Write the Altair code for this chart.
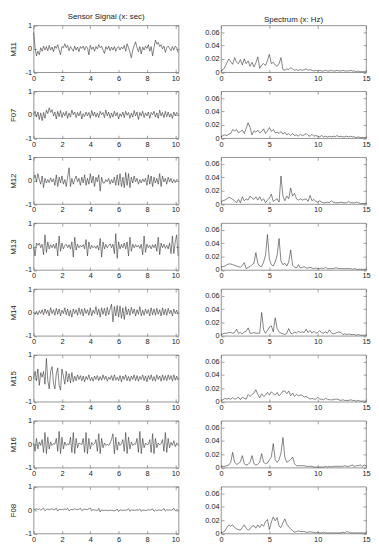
import altair as alt
import pandas as pd

NAMES = ["M11", "F07", "M12", "M13", "M14", "M15", "M16", "F08"]
SIGNAL_DT = 0.1
SPECTRUM_DF = 0.2

SIG_M11 = [0.70,0.05,-0.30,-0.10,-0.25,0.05,-0.10,0.12,-0.05,0.10,
           -0.08,0.15,-0.05,0.08,-0.12,0.12,0.02,0.18,-0.05,-0.25,
           0.10,0.05,0.22,0.05,0.15,-0.08,0.10,0.00,-0.10,0.12,
           -0.05,0.08,-0.12,0.10,0.02,0.12,-0.05,0.10,0.05,-0.25,
           0.15,-0.02,0.08,-0.10,0.10,0.00,0.18,0.05,0.12,-0.05,
           -0.20,0.10,-0.02,0.12,-0.08,0.08,-0.05,0.10,-0.10,0.05,
           0.10,-0.05,0.08,0.00,0.15,-0.10,0.22,0.05,-0.15,-0.38,
           -0.05,0.15,0.30,0.05,-0.12,0.10,-0.22,0.08,-0.05,0.12,
           0.02,0.18,-0.10,0.10,-0.30,0.05,0.38,0.20,0.28,0.10,
           0.18,0.00,0.12,-0.15,0.05,0.12,0.02,-0.08,0.10,-0.05,
           0.12,0.05,-0.15]
SIG_F07 = [0.00,0.15,-0.10,0.12,-0.20,0.08,-0.25,0.10,-0.15,0.20,
           0.05,0.30,0.10,0.22,-0.05,0.12,-0.18,0.15,-0.08,0.18,
           -0.12,0.10,-0.05,0.15,-0.15,0.08,-0.10,0.20,0.00,0.12,
           -0.12,0.10,-0.05,0.15,-0.18,0.05,-0.08,0.12,-0.05,0.10,
           -0.15,0.18,-0.05,0.12,-0.10,0.08,-0.12,0.15,0.00,0.10,
           -0.12,0.20,-0.05,0.12,-0.15,0.08,-0.10,0.15,-0.05,0.10,
           -0.18,0.05,-0.08,0.12,-0.12,0.15,-0.02,0.10,-0.15,0.08,
           -0.10,0.18,-0.05,0.12,-0.20,0.10,-0.05,0.15,-0.12,0.08,
           -0.05,0.12,-0.15,0.10,0.00,0.15,-0.10,0.08,-0.15,0.20,
           -0.05,0.10,-0.12,0.15,-0.08,0.12,-0.10,0.05,-0.15,0.12,
           -0.05,0.10,0.00]
SIG_M12 = [0.10,0.25,-0.05,0.30,0.05,-0.15,0.20,-0.30,0.10,-0.10,
           0.05,-0.08,0.12,-0.05,0.08,-0.20,0.25,-0.25,0.15,-0.10,
           0.20,-0.15,0.05,-0.25,0.15,0.55,-0.25,0.10,-0.15,0.05,
           0.20,-0.05,0.10,-0.20,0.15,-0.10,0.25,-0.20,0.10,-0.15,
           0.30,-0.10,0.20,-0.25,0.15,-0.05,0.25,-0.45,0.15,-0.10,
           -0.10,0.05,-0.05,0.10,-0.15,0.05,-0.10,0.15,-0.20,0.25,
           -0.20,0.30,-0.25,0.15,-0.30,0.35,-0.20,0.30,-0.30,0.15,
           -0.10,0.20,-0.05,0.10,-0.15,0.05,-0.10,0.08,-0.05,0.10,
           -0.20,0.25,-0.15,0.20,-0.25,0.15,-0.10,0.10,-0.15,0.30,
           -0.25,0.20,-0.05,0.10,-0.15,0.15,-0.05,0.10,-0.10,0.05,
           -0.08,0.05,0.00]
SIG_M13 = [0.00,-0.40,0.15,0.05,0.15,-0.05,0.10,-0.35,0.50,-0.25,
           0.20,-0.10,0.08,-0.05,0.10,-0.08,0.15,-0.40,0.45,-0.20,
           0.15,-0.10,0.05,0.10,-0.05,0.08,-0.10,0.20,-0.45,0.40,
           -0.15,0.10,-0.05,0.05,-0.02,0.08,-0.10,0.30,-0.40,0.20,
           -0.10,0.05,-0.05,0.02,-0.08,0.05,-0.15,0.35,-0.45,0.20,
           -0.10,0.10,-0.05,0.05,0.12,-0.05,0.10,-0.30,0.55,-0.50,
           0.20,-0.10,0.10,-0.05,0.15,-0.10,0.20,-0.40,0.40,-0.20,
           0.10,-0.05,0.08,-0.02,0.05,-0.08,0.10,-0.35,0.45,-0.25,
           0.10,-0.05,0.05,-0.10,0.08,-0.05,0.10,-0.20,0.40,-0.35,
           0.15,-0.05,0.10,-0.08,0.05,-0.10,0.15,-0.30,0.45,-0.30,
           0.20,0.50,-0.40]
SIG_M14 = [0.00,-0.08,0.05,-0.10,0.08,-0.05,0.12,-0.10,0.15,-0.05,
           0.10,-0.15,0.20,-0.05,0.12,-0.12,0.18,-0.08,0.15,-0.15,
           0.10,-0.05,0.20,-0.10,0.15,-0.15,0.10,-0.20,0.15,-0.05,
           0.12,-0.12,0.20,-0.08,0.15,-0.15,0.18,-0.05,0.12,-0.12,
           0.20,-0.15,0.10,-0.05,0.25,-0.10,0.15,-0.20,0.20,-0.08,
           0.18,-0.15,0.22,-0.10,0.15,0.35,-0.40,0.25,-0.15,0.30,
           -0.20,0.28,-0.25,0.20,-0.30,0.25,-0.10,0.15,-0.12,0.22,
           -0.05,0.15,-0.15,0.12,-0.08,0.25,-0.15,0.10,-0.12,0.15,
           -0.05,0.12,-0.15,0.20,-0.10,0.15,-0.12,0.18,-0.08,0.12,
           -0.15,0.20,-0.10,0.15,-0.12,0.18,-0.05,0.10,-0.15,0.15,
           -0.05,0.10,-0.08]
SIG_M15 = [0.00,0.30,-0.10,0.40,-0.30,0.25,0.05,0.30,-0.25,0.85,
           -0.10,-0.45,0.30,0.50,-0.20,-0.45,0.20,0.45,-0.30,-0.50,
           0.40,0.10,-0.25,0.30,-0.15,0.20,-0.20,0.25,-0.15,0.10,
           -0.10,0.15,-0.05,0.12,-0.10,0.10,-0.15,0.08,-0.05,0.15,
           -0.10,0.05,-0.12,0.10,-0.05,0.12,-0.10,0.08,-0.08,0.15,
           -0.05,0.10,-0.12,0.05,-0.05,0.12,-0.10,0.15,-0.08,0.05,
           -0.10,0.12,-0.15,0.10,-0.05,0.15,-0.10,0.08,-0.12,0.10,
           -0.05,0.15,-0.10,0.12,-0.12,0.08,-0.05,0.15,-0.10,0.10,
           -0.15,0.12,-0.05,0.15,-0.10,0.08,-0.12,0.15,-0.05,0.10,
           -0.12,0.15,-0.08,0.12,-0.10,0.15,-0.05,0.12,-0.12,0.15,
           -0.08,0.10,-0.05]
SIG_M16 = [0.05,-0.30,0.25,-0.20,0.10,-0.05,0.20,-0.35,0.50,-0.40,
           0.30,-0.20,0.10,-0.05,0.03,0.00,0.25,-0.30,0.55,-0.40,
           0.30,-0.20,0.10,-0.05,0.02,-0.02,0.30,-0.35,0.50,-0.40,
           0.25,-0.15,0.05,0.02,-0.02,0.25,-0.35,0.50,-0.40,0.25,
           -0.20,0.08,-0.03,0.02,0.20,-0.30,0.45,-0.40,0.25,-0.15,
           0.05,-0.05,0.00,-0.05,0.05,0.20,0.45,-0.40,0.30,-0.25,
           0.10,-0.05,0.02,0.20,-0.30,0.50,-0.40,0.30,-0.20,0.10,
           -0.05,0.02,0.00,0.25,-0.35,0.55,-0.40,0.25,-0.15,0.05,
           -0.02,0.00,0.20,-0.35,0.45,-0.40,0.25,-0.15,0.05,-0.03,
           0.02,0.20,-0.30,0.50,-0.35,0.25,-0.15,0.08,-0.05,0.15,
           -0.10,0.05,0.00]
SIG_F08 = [0.05,0.02,0.06,0.03,0.05,0.00,0.04,0.08,-0.03,0.03,
           0.05,0.02,0.04,0.06,0.02,0.03,0.08,-0.04,0.03,0.02,
           0.04,0.02,0.05,0.03,0.08,-0.03,0.02,0.03,0.01,0.06,
           0.03,0.02,0.04,0.08,-0.02,0.02,0.04,0.03,0.02,0.06,
           0.09,-0.03,0.02,0.01,0.00,-0.02,0.08,-0.08,0.02,-0.02,
           -0.01,0.00,-0.02,-0.01,0.00,-0.01,-0.02,-0.03,-0.02,0.05,
           -0.06,0.02,-0.01,0.00,-0.01,0.00,0.01,0.06,-0.05,0.01,
           0.00,-0.01,0.00,0.01,0.00,0.05,-0.05,0.01,0.00,-0.01,
           0.00,0.01,0.00,0.02,0.06,-0.05,0.01,-0.02,0.00,0.01,
           -0.01,0.00,0.07,-0.04,0.02,0.00,0.01,0.00,0.01,0.08,
           -0.03,0.02,0.00]

SPEC_M11 = [0.002,0.004,0.008,0.014,0.020,0.016,0.012,0.022,0.015,0.013,
            0.019,0.011,0.020,0.013,0.017,0.009,0.015,0.008,0.014,0.023,
            0.006,0.011,0.013,0.010,0.018,0.027,0.013,0.015,0.011,0.009,
            0.013,0.022,0.004,0.003,0.005,0.004,0.007,0.005,0.003,0.004,
            0.003,0.004,0.003,0.004,0.005,0.003,0.004,0.003,0.002,0.003,
            0.002,0.003,0.002,0.002,0.003,0.002,0.002,0.003,0.002,0.002,
            0.003,0.002,0.002,0.003,0.002,0.002,0.002,0.003,0.002,0.002,
            0.001,0.002,0.001,0.001,0.001,0.001]
SPEC_F07 = [0.002,0.004,0.005,0.004,0.006,0.007,0.013,0.011,0.013,0.008,
            0.010,0.012,0.007,0.015,0.023,0.016,0.005,0.011,0.009,0.012,
            0.008,0.010,0.014,0.007,0.011,0.016,0.010,0.013,0.008,0.009,
            0.007,0.010,0.006,0.009,0.005,0.007,0.004,0.007,0.004,0.005,
            0.003,0.006,0.004,0.005,0.007,0.004,0.003,0.006,0.003,0.004,
            0.003,0.002,0.004,0.002,0.003,0.002,0.003,0.002,0.003,0.002,
            0.004,0.002,0.003,0.002,0.002,0.003,0.002,0.003,0.002,0.002,
            0.001,0.002,0.001,0.001,0.001,0.001]
SPEC_M12 = [0.004,0.005,0.006,0.008,0.010,0.009,0.007,0.005,0.002,0.007,
            0.002,0.011,0.005,0.008,0.006,0.012,0.009,0.007,0.011,0.006,
            0.011,0.005,0.008,0.002,0.006,0.009,0.015,0.004,0.006,0.008,
            0.003,0.042,0.012,0.005,0.012,0.008,0.024,0.012,0.016,0.008,
            0.006,0.008,0.006,0.007,0.008,0.004,0.013,0.005,0.007,0.004,
            0.003,0.005,0.003,0.002,0.002,0.003,0.002,0.005,0.003,0.002,
            0.002,0.002,0.003,0.002,0.002,0.002,0.004,0.002,0.002,0.002,
            0.003,0.002,0.001,0.001,0.001,0.001]
SPEC_M13 = [0.005,0.005,0.006,0.008,0.009,0.009,0.008,0.007,0.006,0.005,
            0.004,0.007,0.011,0.002,0.004,0.005,0.008,0.010,0.026,0.010,
            0.006,0.005,0.012,0.022,0.053,0.016,0.008,0.006,0.012,0.022,
            0.047,0.013,0.008,0.010,0.006,0.012,0.030,0.007,0.004,0.003,
            0.008,0.003,0.004,0.005,0.003,0.003,0.004,0.003,0.002,0.003,
            0.002,0.002,0.003,0.002,0.004,0.002,0.002,0.002,0.002,0.003,
            0.003,0.002,0.002,0.002,0.002,0.002,0.002,0.002,0.001,0.002,
            0.001,0.001,0.001,0.001,0.001,0.001]
SPEC_M14 = [0.002,0.003,0.004,0.004,0.005,0.005,0.004,0.005,0.010,0.004,
            0.005,0.003,0.006,0.007,0.012,0.004,0.004,0.005,0.004,0.004,
            0.004,0.035,0.009,0.004,0.008,0.013,0.015,0.006,0.027,0.011,
            0.006,0.004,0.003,0.002,0.004,0.011,0.004,0.003,0.006,0.004,
            0.007,0.005,0.006,0.005,0.010,0.005,0.008,0.004,0.007,0.004,
            0.005,0.008,0.005,0.004,0.006,0.004,0.009,0.005,0.003,0.004,
            0.005,0.006,0.005,0.002,0.003,0.002,0.003,0.002,0.002,0.002,
            0.001,0.002,0.001,0.001,0.001,0.001]
SPEC_M15 = [0.002,0.003,0.005,0.004,0.005,0.004,0.006,0.004,0.005,0.007,
            0.003,0.007,0.005,0.004,0.011,0.008,0.011,0.013,0.018,0.011,
            0.006,0.012,0.008,0.010,0.014,0.010,0.015,0.012,0.010,0.014,
            0.009,0.012,0.016,0.016,0.012,0.016,0.009,0.013,0.008,0.011,
            0.009,0.010,0.010,0.007,0.008,0.006,0.004,0.005,0.004,0.004,
            0.007,0.004,0.004,0.003,0.005,0.004,0.003,0.003,0.003,0.004,
            0.004,0.003,0.002,0.003,0.002,0.002,0.002,0.003,0.002,0.002,
            0.001,0.002,0.001,0.001,0.001,0.001]
SPEC_M16 = [0.002,0.002,0.002,0.003,0.004,0.008,0.023,0.008,0.005,0.006,
            0.009,0.018,0.006,0.004,0.005,0.008,0.018,0.006,0.004,0.005,
            0.008,0.021,0.008,0.006,0.007,0.012,0.016,0.036,0.012,0.008,
            0.012,0.022,0.045,0.015,0.008,0.010,0.012,0.016,0.006,0.003,
            0.003,0.003,0.003,0.003,0.002,0.002,0.002,0.002,0.001,0.001,
            0.001,0.001,0.001,0.001,0.002,0.001,0.002,0.001,0.002,0.002,
            0.002,0.002,0.002,0.002,0.003,0.002,0.002,0.003,0.004,0.002,
            0.003,0.003,0.004,0.002,0.004,0.003]
SPEC_F08 = [0.001,0.002,0.004,0.009,0.013,0.011,0.013,0.009,0.007,0.006,
            0.005,0.009,0.013,0.008,0.005,0.007,0.011,0.012,0.008,0.013,
            0.009,0.014,0.011,0.018,0.021,0.006,0.017,0.025,0.019,0.024,
            0.011,0.009,0.016,0.022,0.014,0.010,0.007,0.004,0.002,0.003,
            0.004,0.003,0.003,0.003,0.002,0.002,0.003,0.002,0.002,0.001,
            0.002,0.001,0.001,0.002,0.001,0.001,0.001,0.001,0.001,0.001,
            0.001,0.001,0.001,0.002,0.001,0.003,0.002,0.001,0.001,0.001,
            0.001,0.001,0.001,0.001,0.001,0.001]

SIGNALS = [SIG_M11, SIG_F07, SIG_M12, SIG_M13, SIG_M14, SIG_M15, SIG_M16, SIG_F08]
SPECTRA = [SPEC_M11, SPEC_F07, SPEC_M12, SPEC_M13, SPEC_M14, SPEC_M15, SPEC_M16, SPEC_F08]

SIGNAL_XTICKS = [0, 2, 4, 6, 8, 10]
SIGNAL_YTICKS = [-1, 0, 1]
SPEC_XTICKS = [0, 5, 10, 15]
SPEC_YTICKS = [0, 0.02, 0.04, 0.06]
SIGNAL_XDOM = [0, 10.24]
SIGNAL_YDOM = [-1, 1]
SPEC_XDOM = [0, 15]
SPEC_YDOM = [0, 0.07]

FONT = "Liberation Sans"
LINE = "#333333"
FRAME = "#666666"
W, H = 147, 47.5


def panel(values, step, xdom, ydom, xticks, yticks, title=None, ytitle=None):
    df = pd.DataFrame({"x": [round(i * step, 3) for i in range(len(values))], "y": values})
    base = alt.Chart(df)
    xs = alt.Scale(domain=xdom, nice=False, zero=False)
    ys = alt.Scale(domain=ydom, nice=False, zero=False)
    common = dict(domain=False, grid=False, tickSize=3, offset=-3, tickColor=FRAME,
                  tickWidth=0.6, labelOverlap=False)
    yaxis_kwargs = dict(values=yticks, orient="left", labelPadding=2,
                        labelExpr="'' + datum.value", **common)
    if ytitle:
        yaxis_kwargs.update(title=ytitle, titlePadding=8, titleFontSize=8,
                            titleFontWeight="normal", titleFont=FONT, titleColor="#222")
    else:
        yaxis_kwargs.update(title=None)
    line = base.mark_line(color=LINE, strokeWidth=0.6).encode(
        x=alt.X("x:Q", scale=xs,
                axis=alt.Axis(values=xticks, orient="bottom", title=None, labelPadding=2,
                              labelFlush=False, labelExpr="'' + datum.value", **common)),
        y=alt.Y("y:Q", scale=ys, axis=alt.Axis(**yaxis_kwargs)),
    )
    ghost = base.mark_line(opacity=0).encode(
        x=alt.X("x:Q", scale=xs,
                axis=alt.Axis(values=xticks, orient="top", title=None, labels=False, **common)),
        y=alt.Y("y:Q", scale=ys,
                axis=alt.Axis(values=yticks, orient="right", title=None, labels=False, **common)),
    )
    ch = alt.layer(line, ghost).resolve_axis(x="independent", y="independent").properties(width=W, height=H)
    if title:
        ch = ch.properties(title=alt.TitleParams(text=title, fontSize=8, fontWeight="normal",
                                                 font=FONT, color="#222", offset=1))
    return ch


panels = []
for i, name in enumerate(NAMES):
    panels.append(panel(SIGNALS[i], SIGNAL_DT, SIGNAL_XDOM, SIGNAL_YDOM, SIGNAL_XTICKS, SIGNAL_YTICKS,
                        title="Sensor Signal (x: sec)" if i == 0 else None, ytitle=name))
    panels.append(panel(SPECTRA[i], SPECTRUM_DF, SPEC_XDOM, SPEC_YDOM, SPEC_XTICKS, SPEC_YTICKS,
                        title="Spectrum (x: Hz)" if i == 0 else None))

chart = (
    alt.concat(*panels, columns=2, spacing={"row": 18.8, "column": 43}, bounds="flush")
    .properties(padding={"left": 0, "top": 0, "right": 0, "bottom": 0}, background="white")
    .configure_view(stroke=FRAME, strokeWidth=0.7)
    .configure_axis(labelFont=FONT, labelFontSize=7.5, labelColor="#222")
)

chart.save("out.html", embed_options={"renderer": "svg", "actions": False})
